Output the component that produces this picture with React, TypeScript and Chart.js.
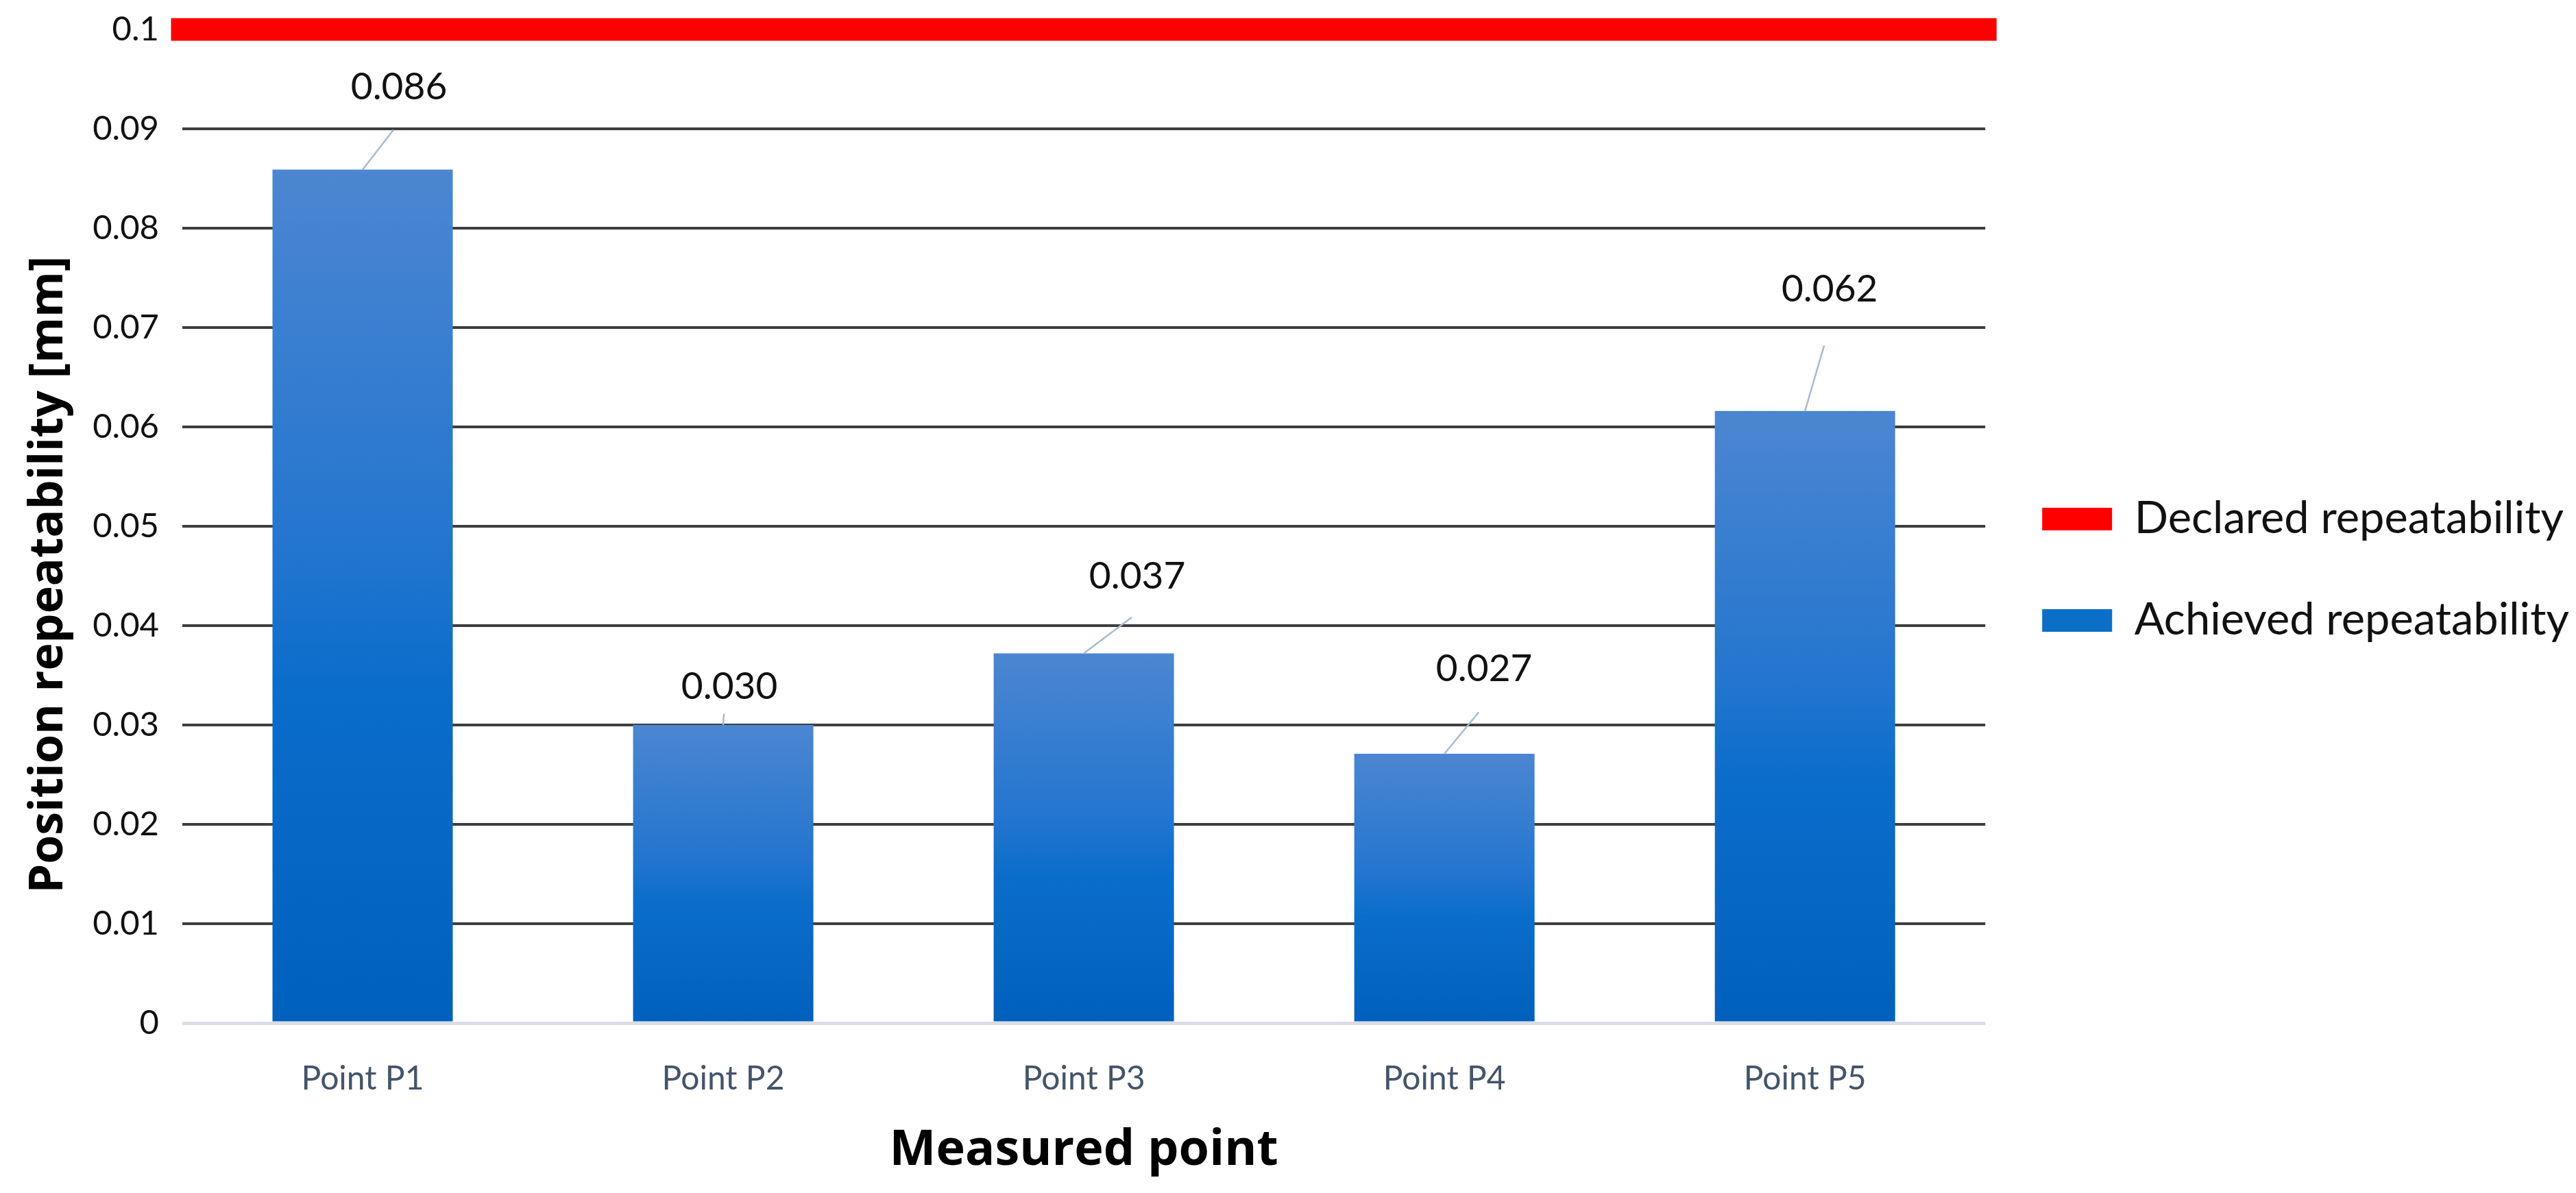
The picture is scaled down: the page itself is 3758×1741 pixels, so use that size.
import { useEffect, useRef } from 'react';
import { Chart, registerables } from 'chart.js';

Chart.register(...registerables);

// ---- data ----
const categories = ['Point P1', 'Point P2', 'Point P3', 'Point P4', 'Point P5'];
const achievedValues = [0.0859, 0.03, 0.0372, 0.0271, 0.0616];
const declaredValue = 0.1;
const declaredSpan = [0, 1];
const seriesLabels = ['Declared repeatability', 'Achieved repeatability'];
const yMin = 0;
const yMax = 0.1;
const yStep = 0.01;
const xTitle = 'Measured point';
const yTitle = 'Position repeatability [mm]';

// ---- styling / layout ----
const legendColors = ['#ff0000', '#0b6fc7'];
const labelOffsets = [
  [53, -120],
  [9, -56],
  [78, -112],
  [58, -124],
  [36, -178],
];

const barFill = (c: any) => {
  const chart = c.chart;
  const ys = chart.scales && chart.scales.y;
  if (!chart.chartArea || !ys || typeof c.raw !== 'number') return '#0a6fcc';
  const top = ys.getPixelForValue(c.raw);
  const base = ys.getPixelForValue(0);
  if (!isFinite(top) || !isFinite(base) || base - top < 1) return '#0a6fcc';
  const g = chart.ctx.createLinearGradient(0, top, 0, base);
  g.addColorStop(0, '#4c86d1');
  g.addColorStop(0.45, '#2275cf');
  g.addColorStop(0.6, '#0b6dcb');
  g.addColorStop(1, '#0060bd');
  return g;
};

const valueLabels = {
  id: 'valueLabels',
  afterDatasetsDraw(chart: any) {
    const meta = chart.getDatasetMeta(1);
    const ctx = chart.ctx;
    ctx.save();
    meta.data.forEach((bar: any, i: number) => {
      const [dx, dy] = labelOffsets[i];
      const x = bar.x;
      const y = bar.y;
      const lx = x + dx;
      const ly = y + dy;
      const ex = lx - 8;
      const ey = ly + 20 + 0.35 * (y - ly);
      ctx.strokeStyle = '#a8bad3';
      ctx.lineWidth = 2.5;
      ctx.beginPath();
      ctx.moveTo(x, y);
      ctx.lineTo(ex, ey);
      ctx.stroke();
      ctx.fillStyle = '#111111';
      ctx.font = '55px Lato';
      ctx.textAlign = 'center';
      ctx.textBaseline = 'middle';
      ctx.fillText(achievedValues[i].toFixed(3), lx, ly);
    });
    ctx.restore();
  },
};

export default function App() {
  const ref = useRef<HTMLCanvasElement>(null);

  useEffect(() => {
    if (!ref.current) return;
    const chart = new Chart(ref.current, {
      type: 'bar',
      data: {
        labels: categories,
        datasets: [
          {
            type: 'line',
            label: seriesLabels[0],
            data: declaredSpan.map((x) => ({ x, y: declaredValue })),
            xAxisID: 'x2',
            yAxisID: 'y',
            borderColor: legendColors[0],
            backgroundColor: legendColors[0],
            borderWidth: 33,
            pointRadius: 0,
            borderCapStyle: 'square',
            fill: false,
            clip: false,
          } as any,
          {
            type: 'bar',
            label: seriesLabels[1],
            data: achievedValues,
            xAxisID: 'x',
            yAxisID: 'y',
            backgroundColor: barFill,
            borderWidth: 0,
            grouped: false,
            categoryPercentage: 1,
            barPercentage: 0.5,
          } as any,
        ],
      },
      options: {
        responsive: false,
        animation: false,
        layout: { padding: { top: 43, left: 0, right: 0, bottom: 0 } },
        plugins: {
          tooltip: { enabled: false },
          legend: {
            position: 'right',
            align: 'start',
            title: {
              display: true,
              text: ' ',
              padding: { top: 589, bottom: 0 },
              font: { size: 10, lineHeight: 1 },
            },
            labels: {
              boxWidth: 102,
              boxHeight: 33,
              padding: 83,
              color: '#111111',
              font: { family: 'Lato', size: 65 },
              generateLabels: (ch: any) =>
                ch.data.datasets.map((ds: any, i: number) => ({
                  text: ds.label,
                  fillStyle: legendColors[i],
                  strokeStyle: legendColors[i],
                  lineWidth: 0,
                  hidden: false,
                  datasetIndex: i,
                  fontColor: '#111111',
                })),
            },
          },
        },
        scales: {
          x: {
            type: 'category',
            weight: 1,
            grid: { display: false },
            border: { display: false },
            ticks: { color: '#44546a', font: { family: 'Lato', size: 48 }, padding: 45 },
            title: {
              display: true,
              text: xTitle,
              color: '#000000',
              font: { family: 'Open Sans', size: 72, weight: 'bold' },
              padding: { top: 0, bottom: 18 },
            },
            afterFit: (s: any) => {
              s.height = 248;
            },
          },
          x2: {
            type: 'linear',
            position: 'bottom',
            weight: 0,
            display: true,
            offset: false,
            min: 0,
            max: 1,
            ticks: { display: false },
            grid: { display: false, drawTicks: false, offset: false },
            border: { display: false },
            title: { display: false },
            afterFit: (s: any) => {
              s.height = 0;
              s.paddingLeft = 0;
              s.paddingRight = 0;
            },
          },
          y: {
            min: yMin,
            max: yMax,
            ticks: {
              stepSize: yStep,
              color: '#111111',
              font: { family: 'Lato', size: 49 },
              padding: 34,
              callback: (v: any) => {
                const n = Number(v);
                return n === 0 ? '0' : String(parseFloat(n.toFixed(2)));
              },
            },
            grid: {
              drawTicks: false,
              color: (c: any) => (c.tick && c.tick.value === 0 ? '#dcdde5' : '#3e3e3e'),
              lineWidth: (c: any) => (c.tick && c.tick.value === 0 ? 5 : 4),
            },
            border: { display: false },
            title: {
              display: true,
              text: yTitle + '        ',
              color: '#000000',
              font: { family: 'Open Sans', size: 68, weight: 'bold' },
              padding: { top: 31, bottom: 0 },
            },
            afterFit: (s: any) => {
              s.width = 266;
              s.paddingTop = 0;
              s.paddingBottom = 0;
            },
          },
        },
      } as any,
      plugins: [valueLabels],
    });
    return () => chart.destroy();
  }, []);

  return (
    <div style={{ position: 'absolute', left: 0, top: 0, width: 3758, height: 1741, background: '#ffffff' }}>
      <canvas ref={ref} width={3758} height={1741} style={{ display: 'block', width: 3758, height: 1741 }} />
    </div>
  );
}
